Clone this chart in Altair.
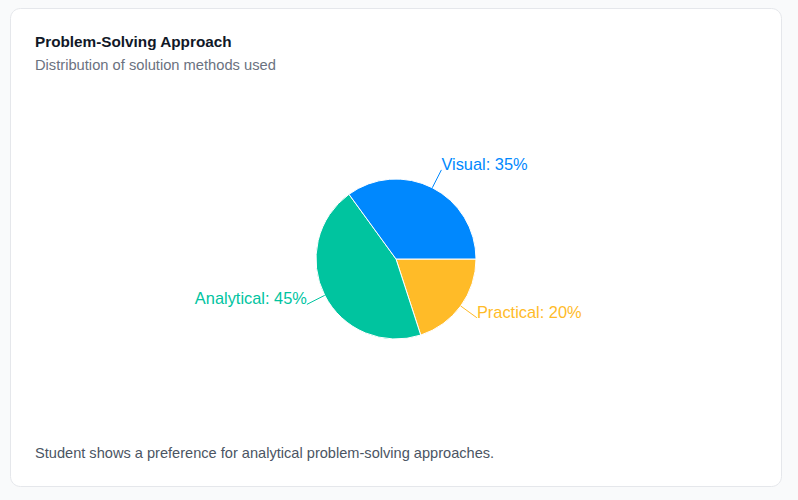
import math
import altair as alt
import pandas as pd

# ---- data ----
categories = ["Practical", "Analytical", "Visual"]   # clockwise from 3 o'clock
values = [20, 45, 35]
colors = ["#FFBB28", "#00C49F", "#0088FE"]
order = [0, 1, 2]

title_text = "Problem-Solving Approach"
subtitle_text = "Distribution of solution methods used"
footer_text = "Student shows a preference for analytical problem-solving approaches."

FONT = "Liberation Sans"
CX, CY, R_OUT, R_LAB = 386, 251, 80, 100

df = pd.DataFrame({"category": categories, "value": values, "order": order})
color_scale = alt.Scale(domain=categories, range=colors)

base = alt.Chart(df).transform_joinaggregate(
    total="sum(value)"
).transform_window(
    cum="sum(value)", sort=[alt.SortField("order")], frame=[None, 0]
).transform_calculate(
    t0="(datum.cum - datum.value) / datum.total * 2 * PI + PI / 2",
    t1="datum.cum / datum.total * 2 * PI + PI / 2",
).transform_calculate(
    mid="(datum.t0 + datum.t1) / 2",
).transform_calculate(
    x1=f"{CX} + {R_OUT} * sin(datum.mid)",
    y1=f"{CY} - {R_OUT} * cos(datum.mid)",
    x2=f"{CX} + {R_LAB} * sin(datum.mid)",
    y2=f"{CY} - {R_LAB} * cos(datum.mid)",
    label="datum.category + ': ' + datum.value + '%'",
)

arcs = base.mark_arc(radius=R_OUT, stroke="white", strokeWidth=1).encode(
    theta=alt.Theta("t0:Q", scale=None),
    theta2="t1:Q",
    color=alt.Color("category:N", scale=color_scale, legend=None),
    x=alt.value(CX),
    y=alt.value(CY),
)

lines = base.mark_rule(strokeWidth=1).encode(
    x=alt.X("x1:Q", scale=None, axis=None),
    y=alt.Y("y1:Q", scale=None, axis=None),
    x2="x2:Q",
    y2="y2:Q",
    color=alt.Color("category:N", scale=color_scale, legend=None),
)

labels_right = base.transform_filter("sin(datum.mid) >= 0").mark_text(
    align="left", baseline="alphabetic", font=FONT, fontSize=16.4
).encode(
    x=alt.X("x2:Q", scale=None, axis=None),
    y=alt.Y("y2:Q", scale=None, axis=None),
    text="label:N",
    color=alt.Color("category:N", scale=color_scale, legend=None),
)

labels_left = base.transform_filter("sin(datum.mid) < 0").mark_text(
    align="right", baseline="alphabetic", font=FONT, fontSize=16.4
).encode(
    x=alt.X("x2:Q", scale=None, axis=None),
    y=alt.Y("y2:Q", scale=None, axis=None),
    text="label:N",
    color=alt.Color("category:N", scale=color_scale, legend=None),
)

def text_layer(txt, x, y, size, color, weight="normal"):
    return alt.Chart(pd.DataFrame({"t": [txt]})).mark_text(
        align="left", baseline="alphabetic", font=FONT, fontSize=size,
        fontWeight=weight, color=color
    ).encode(text="t:N", x=alt.value(x), y=alt.value(y))

title = text_layer(title_text, 25, 39, 15.3, "#111827", "bold")
subtitle = text_layer(subtitle_text, 25, 62, 14.7, "#6B7280")
footer = text_layer(footer_text, 25, 450, 14.6, "#4B5563")

chart = alt.layer(arcs, lines, labels_right, labels_left, title, subtitle, footer).properties(
    width=771,
    height=478,
    background="#F9FAFB",
    padding={"left": 10, "top": 8, "right": 17, "bottom": 14},
    autosize=alt.AutoSizeParams(type="none"),
).configure_view(
    fill="white", stroke="#E5E7EB", strokeWidth=1, cornerRadius=10
)

chart.save("out.html", embed_options={"renderer": "svg", "actions": False})
